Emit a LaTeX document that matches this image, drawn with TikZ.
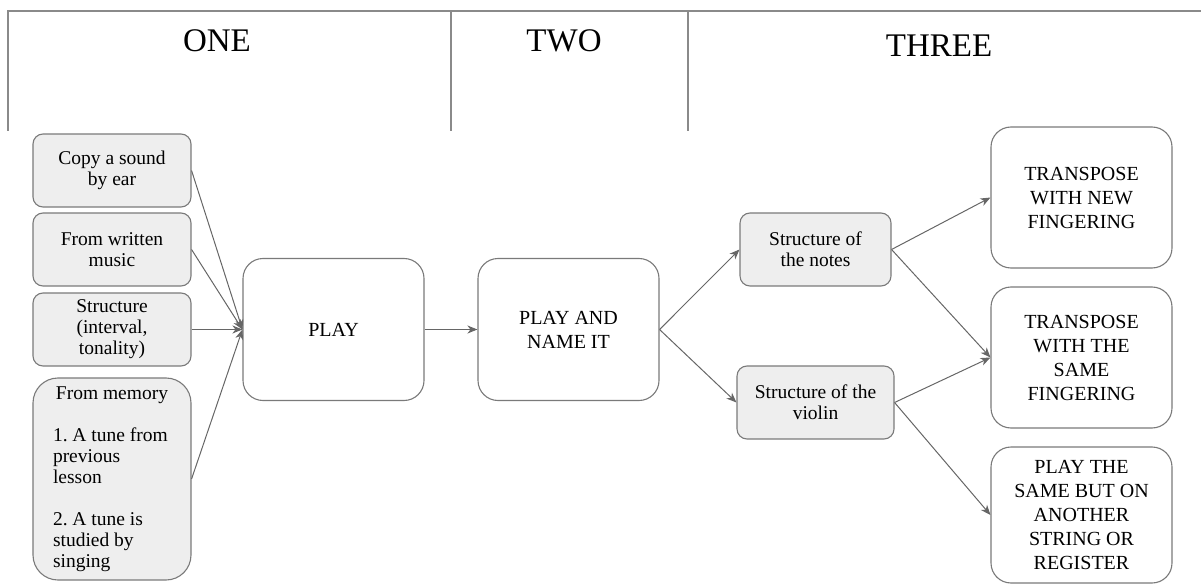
\documentclass[tikz,border=0pt]{standalone}
\usepackage{fontspec}
\setmainfont{Liberation Serif}
\usetikzlibrary{arrows.meta}
\frenchspacing
\definecolor{boxgray}{HTML}{EEEEEE}
\definecolor{bordergray}{HTML}{7A7A7A}
\definecolor{linegray}{HTML}{666666}
\definecolor{headgray}{HTML}{8A8A8A}
\tikzset{
  headline/.style={draw=headgray, line width=1.6pt},
  title/.style={anchor=base, inner sep=0pt, font=\fontsize{33}{36}\selectfont},
  sbox/.style={draw=bordergray, fill=boxgray, line width=1.1pt, rounded corners=10pt,
    minimum width=158pt, minimum height=73pt, inner sep=0pt, align=center,
    font=\fontsize{19.5}{21}\selectfont},
  bbox/.style={draw=bordergray, fill=white, line width=1.1pt, rounded corners=20pt,
    minimum width=181pt, minimum height=142pt, inner sep=0pt, align=center,
    font=\fontsize{20}{24}\selectfont},
  arr/.style={draw=linegray, line width=1pt, -{Stealth[length=10pt,width=8pt,inset=3pt]}},
}
\begin{document}
\begin{tikzpicture}[x=1pt,y=-1pt]
\useasboundingbox (0,0) rectangle (1201,585);
% header
\draw[headline] (8,131) -- (8,11) -- (1201,11);
\draw[headline] (451,11) -- (451,131);
\draw[headline] (688,11) -- (688,131);
\node[title] (one) at (217,52) {ONE};
\node[title] (two) at (564,52) {TWO};
\node[title] (three) at (939,57) {THREE};
% column one
\node[sbox] (copy) at (112,170.5) {Copy a sound\\by ear};
\node[sbox] (written) at (112,249.5) {From written\\music};
\node[sbox] (struct) at (112,329.5) {Structure\\(interval,\\tonality)};
\node[sbox, minimum height=202pt, rounded corners=25pt, align=left] (mem) at (112,479)
  {\makebox[118pt]{From memory}\\[21pt]1. A tune from\\previous\\lesson\\[21pt]2. A tune is\\studied by\\singing};
\node[bbox] (play) at (333.5,329.5) {PLAY};
% column two
\node[bbox] (pname) at (568.5,329.5) {PLAY AND\\NAME IT};
\node[sbox, minimum width=151pt] (notes) at (815.5,249.5) {Structure of\\the notes};
\node[sbox, minimum width=157pt] (violin) at (815.5,402.5) {Structure of the\\violin};
% column three
\node[bbox, minimum height=141pt] (t1) at (1081.5,197.5) {TRANSPOSE\\WITH NEW\\FINGERING};
\node[bbox, minimum height=141pt] (t2) at (1081.5,357.5) {TRANSPOSE\\WITH THE\\SAME\\FINGERING};
\node[bbox, minimum height=136pt] (t3) at (1081.5,515) {PLAY THE\\SAME BUT ON\\ANOTHER\\STRING OR\\REGISTER};
% connectors
\draw[arr] (copy.east) -- (play.west);
\draw[arr] (written.east) -- (play.west);
\draw[arr] (struct.east) -- (play.west);
\draw[arr] (mem.east) -- (play.west);
\draw[arr] (play.east) -- (pname.west);
\draw[arr] (pname.east) -- (notes.west);
\draw[arr] (pname.east) -- (violin.west);
\draw[arr] (notes.east) -- (t1.west);
\draw[arr] (notes.east) -- (t2.west);
\draw[arr] (violin.east) -- (t2.west);
\draw[arr] (violin.east) -- (t3.west);
\end{tikzpicture}
\end{document}
